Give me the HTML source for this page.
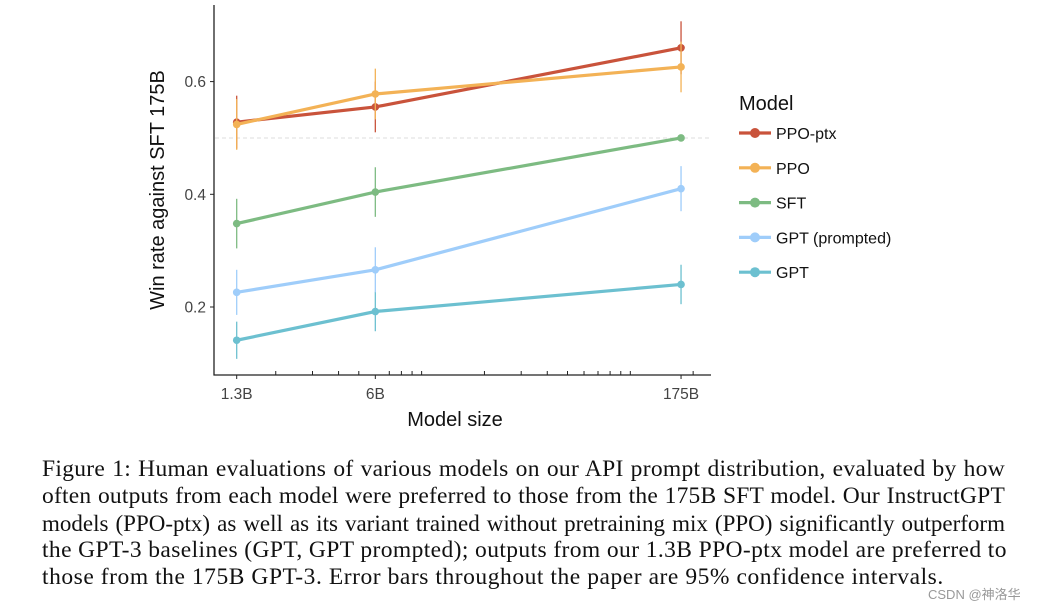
<!DOCTYPE html>
<html><head><meta charset="utf-8"><style>
body{margin:0;background:#fff;width:1047px;height:610px;overflow:hidden;position:relative}
.cap{position:absolute;left:42px;top:456px;width:963px;font-family:"Liberation Serif",serif;font-size:23.5px;letter-spacing:0.4px;line-height:27px;color:#111}
.cap div{text-align:justify;text-align-last:justify;white-space:nowrap}
.cap div.last{text-align-last:left;letter-spacing:0.55px}
.wm{position:absolute;left:928px;top:584px;font-family:"Liberation Sans","Noto Sans CJK SC",sans-serif;font-size:13px;color:#999}
</style></head><body>
<svg id="chart" width="1047" height="450" style="position:absolute;left:0;top:0" font-family="Liberation Sans, sans-serif"></svg>
<div class="cap">
<div style="letter-spacing:0.3px">Figure 1: Human evaluations of various models on our API prompt distribution, evaluated by how</div>
<div style="letter-spacing:0.2px">often outputs from each model were preferred to those from the 175B SFT model. Our InstructGPT</div>
<div style="letter-spacing:0px;font-size:23px">models (PPO-ptx) as well as its variant trained without pretraining mix (PPO) significantly outperform</div>
<div>the GPT-3 baselines (GPT, GPT prompted); outputs from our 1.3B PPO-ptx model are preferred to</div>
<div class="last">those from the 175B GPT-3. Error bars throughout the paper are 95% confidence intervals.</div>
</div>
<div class="wm">CSDN @神洛华</div>
<script>
const sizes=[1.3,6,175];
const sizeLabels=["1.3B","6B","175B"];
const seriesNames=["PPO-ptx","PPO","SFT","GPT (prompted)","GPT"];
const seriesColors=["#c9533b","#f3b256","#7dbb82","#9fcdfa","#6cc0d0"];
const ppoPtx=[0.528,0.555,0.660];
const ppo=[0.524,0.578,0.626];
const sft=[0.348,0.404,0.500];
const gptPrompted=[0.226,0.266,0.410];
const gpt=[0.141,0.192,0.240];
const errPpoPtx=[0.047,0.045,0.047];
const errPpo=[0.045,0.045,0.045];
const errSft=[0.044,0.044,0];
const errGptPrompted=[0.040,0.040,0.040];
const errGpt=[0.033,0.035,0.035];
const yTicks=[0.2,0.4,0.6];
const minorTicks=[2,3,4,5,7,8,9,10,20,30,40,50,60,70,80,90,100,200];
const refLine=0.5;

const svg=document.getElementById('chart');const NS='http://www.w3.org/2000/svg';
function X(v){return 236.7+(Math.log10(v)-Math.log10(1.3))*208.7;}
function Y(v){return 307-(v-0.2)*563.5;}
function mk(t,a,p){const e=document.createElementNS(NS,t);for(const k in a)e.setAttribute(k,a[k]);(p||svg).appendChild(e);return e;}
let e=mk('line',{x1:215,x2:710,y1:Y(refLine),y2:Y(refLine),stroke:'#ddd','stroke-dasharray':'4 3','stroke-width':1});


e=mk('line',{x1:214,x2:214,y1:5,y2:375.5,stroke:'#222','stroke-width':1.3});


e=mk('line',{x1:213.5,x2:711,y1:375,y2:375,stroke:'#222','stroke-width':1.3});


yTicks.forEach(t=>{mk('line',{x1:210,x2:214,y1:Y(t),y2:Y(t),stroke:'#222'});
 e=mk('text',{x:206,y:Y(t)+5.5,'text-anchor':'end','font-size':15.5,fill:'#444'});e.textContent=t.toFixed(1);
 
 });
minorTicks.forEach(t=>{mk('line',{x1:X(t),x2:X(t),y1:371,y2:375,stroke:'#222'});});
sizes.forEach((s,i)=>{mk('line',{x1:X(s),x2:X(s),y1:375,y2:379,stroke:'#222'});
 e=mk('text',{x:X(s),y:399,'text-anchor':'middle','font-size':15.5,fill:'#444'});e.textContent=sizeLabels[i];
 
 });
e=mk('text',{x:455,y:426,'text-anchor':'middle','font-size':20,fill:'#111'});e.textContent='Model size';


e=mk('text',{x:0,y:0,'text-anchor':'middle','font-size':20,fill:'#111',transform:'translate(164,190) rotate(-90)'});e.textContent='Win rate against SFT 175B';


const allVals=[ppoPtx,ppo,sft,gptPrompted,gpt];const allErr=[errPpoPtx,errPpo,errSft,errGptPrompted,errGpt];
const order=[4,3,2,0,1];
order.forEach(si=>{const g=mk('g',{});
 
 
 const c=seriesColors[si],v=allVals[si],er=allErr[si];
 v.forEach((d,i)=>{if(er[i]>0)mk('line',{x1:X(sizes[i]),x2:X(sizes[i]),y1:Y(d-er[i]),y2:Y(d+er[i]),stroke:c,'stroke-width':1.3},g);});
 mk('polyline',{points:v.map((d,i)=>X(sizes[i])+','+Y(d)).join(' '),fill:'none',stroke:c,'stroke-width':3.2},g);
 v.forEach((d,i)=>{mk('circle',{cx:X(sizes[i]),cy:Y(d),r:3.8,fill:c},g);});
});
e=mk('text',{x:739,y:110,'font-size':20,fill:'#111'});e.textContent='Model';


seriesNames.forEach((n,i)=>{const y=133+i*34.8;const g=mk('g',{});
 
 
 mk('line',{x1:739,x2:771,y1:y,y2:y,stroke:seriesColors[i],'stroke-width':3.2},g);
 mk('circle',{cx:755,cy:y,r:5,fill:seriesColors[i]},g);
 const t=mk('text',{x:776,y:y+6,'font-size':16,fill:'#111'},g);t.textContent=n;});
</script>
</body></html>
